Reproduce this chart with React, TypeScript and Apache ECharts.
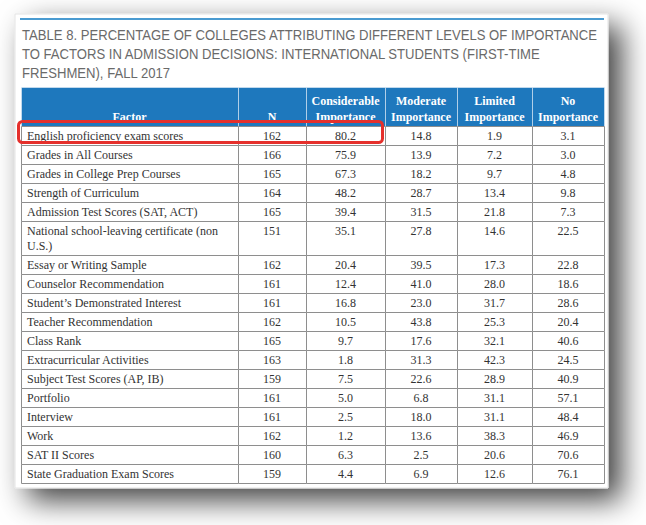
import React, { useEffect, useRef } from "react";
import * as echarts from "echarts";

// ---------- data ----------
const titleLines = [
  "TABLE 8. PERCENTAGE OF COLLEGES ATTRIBUTING DIFFERENT LEVELS OF IMPORTANCE",
  "TO FACTORS IN ADMISSION DECISIONS: INTERNATIONAL STUDENTS (FIRST-TIME",
  "FRESHMEN), FALL 2017",
];
const headers = [
  "Factor",
  "N",
  "Considerable\nImportance",
  "Moderate\nImportance",
  "Limited\nImportance",
  "No\nImportance",
];
const factors = [
  "English proficiency exam scores",
  "Grades in All Courses",
  "Grades in College Prep Courses",
  "Strength of Curriculum",
  "Admission Test Scores (SAT, ACT)",
  "National school-leaving certificate (non\nU.S.)",
  "Essay or Writing Sample",
  "Counselor Recommendation",
  "Student\u2019s Demonstrated Interest",
  "Teacher Recommendation",
  "Class Rank",
  "Extracurricular Activities",
  "Subject Test Scores (AP, IB)",
  "Portfolio",
  "Interview",
  "Work",
  "SAT II Scores",
  "State Graduation Exam Scores",
];
const nValues = [162, 166, 165, 164, 165, 151, 162, 161, 161, 162, 165, 163, 159, 161, 161, 162, 160, 159];
const considerable = [80.2, 75.9, 67.3, 48.2, 39.4, 35.1, 20.4, 12.4, 16.8, 10.5, 9.7, 1.8, 7.5, 5.0, 2.5, 1.2, 6.3, 4.4];
const moderate = [14.8, 13.9, 18.2, 28.7, 31.5, 27.8, 39.5, 41.0, 23.0, 43.8, 17.6, 31.3, 22.6, 6.8, 18.0, 13.6, 2.5, 6.9];
const limited = [1.9, 7.2, 9.7, 13.4, 21.8, 14.6, 17.3, 28.0, 31.7, 25.3, 32.1, 42.3, 28.9, 31.1, 31.1, 38.3, 20.6, 12.6];
const noImportance = [3.1, 3.0, 4.8, 9.8, 7.3, 22.5, 22.8, 18.6, 28.6, 20.4, 40.6, 24.5, 40.9, 57.1, 48.4, 46.9, 70.6, 76.1];
const highlightRow = 0;
const highlightLastCol = 2;

// ---------- layout ----------
const COL_W = [217, 68, 79, 72, 75, 72];
const HEADER_H = 39;
const ROW_H = 19;
const EXTRA_LINE_H = 15;

const SERIF = "'Liberation Serif', 'DejaVu Serif', serif";
const SANS = "'Liberation Sans', Arial, sans-serif";

function cellText(c: number, r: number): string {
  if (r < 0) return headers[c];
  if (c === 0) return factors[r];
  if (c === 1) return String(nValues[r]);
  const cols = [considerable, moderate, limited, noImportance];
  return cols[c - 2][r].toFixed(1);
}

export default function App() {
  const ref = useRef<HTMLDivElement>(null);

  useEffect(() => {
    if (!ref.current) return;
    const chart = echarts.init(ref.current, undefined, { renderer: "svg" });

    const colEdges = [0];
    COL_W.forEach((w) => colEdges.push(colEdges[colEdges.length - 1] + w));
    const rowEdges = [HEADER_H];
    factors.forEach((f) => {
      const lines = f.split("\n").length;
      rowEdges.push(rowEdges[rowEdges.length - 1] + ROW_H + (lines - 1) * EXTRA_LINE_H);
    });
    const totalW = colEdges[colEdges.length - 1];
    const totalH = rowEdges[rowEdges.length - 1];

    const cells: number[][] = [];
    for (let c = 0; c < COL_W.length; c++) {
      cells.push([colEdges[c], 0, colEdges[c + 1], HEADER_H, c, -1]);
    }
    for (let r = 0; r < factors.length; r++) {
      for (let c = 0; c < COL_W.length; c++) {
        cells.push([colEdges[c], rowEdges[r], colEdges[c + 1], rowEdges[r + 1], c, r]);
      }
    }

    const highlight = [[0, rowEdges[highlightRow], colEdges[highlightLastCol + 1], rowEdges[highlightRow + 1]]];

    const option: any = {
      animation: false,
      backgroundColor: "#ffffff",
      grid: { left: 21, top: 87, width: totalW, height: totalH },
      xAxis: { type: "value", min: 0, max: totalW, show: false },
      yAxis: { type: "value", min: 0, max: totalH, inverse: true, show: false },
      graphic: [
        {
          type: "rect",
          z: 0,
          shape: { x: 15, y: 14, width: 593, height: 474 },
          style: {
            fill: "#ffffff",
            stroke: "#e3e3e3",
            lineWidth: 1,
            shadowBlur: 30,
            shadowOffsetX: 13,
            shadowOffsetY: 12,
            shadowColor: "rgba(0,0,0,0.75)",
          },
        },
        {
          type: "rect",
          z: 1,
          shape: { x: 20, y: 18, width: 584, height: 2 },
          style: { fill: "#4a9bd1" },
        },
        {
          type: "text",
          z: 5,
          x: 22,
          y: 26,
          scaleX: 0.937,
          style: {
            text: titleLines.join("\n"),
            font: `14px ${SANS}`,
            fill: "#6a6a6a",
            lineHeight: 19,
            verticalAlign: "top",
            align: "left",
          },
        },
      ],
      series: [
        {
          type: "custom",
          coordinateSystem: "cartesian2d",
          encode: { x: [0, 2], y: [1, 3] },
          data: cells,
          silent: true,
          renderItem: (params: any, api: any) => {
            const x0 = api.value(0);
            const y0 = api.value(1);
            const x1 = api.value(2);
            const y1 = api.value(3);
            const c = api.value(4);
            const r = api.value(5);
            const p0 = api.coord([x0, y0]);
            const p1 = api.coord([x1, y1]);
            const isHeader = r < 0;
            const rect = {
              type: "rect",
              shape: {
                x: p0[0] + 0.5,
                y: p0[1] + 0.5,
                width: p1[0] - p0[0],
                height: p1[1] - p0[1],
              },
              style: isHeader
                ? { fill: "#1e78bd", stroke: "rgba(255,255,255,0.45)", lineWidth: 1 }
                : { fill: "#ffffff", stroke: "#8e8e8e", lineWidth: 1 },
            };
            let text: any;
            if (isHeader) {
              text = {
                type: "text",
                x: (p0[0] + p1[0]) / 2,
                y: p0[1] + (c <= 1 ? 22 : 6),
                style: {
                  text: cellText(c, r),
                  font: `bold 12px ${SERIF}`,
                  fill: "#ffffff",
                  align: "center",
                  verticalAlign: "top",
                  lineHeight: 16,
                },
              };
            } else {
              text = {
                type: "text",
                x: c === 0 ? p0[0] + 6 : (p0[0] + p1[0]) / 2,
                y: p0[1] + 2.5,
                style: {
                  text: cellText(c, r),
                  font: `12px ${SERIF}`,
                  fill: "#333333",
                  align: c === 0 ? "left" : "center",
                  verticalAlign: "top",
                  lineHeight: 15,
                },
              };
            }
            return { type: "group", children: [rect, text] };
          },
        },
        {
          type: "custom",
          coordinateSystem: "cartesian2d",
          encode: { x: [0, 2], y: [1, 3] },
          data: highlight,
          silent: true,
          z: 10,
          renderItem: (params: any, api: any) => {
            const p0 = api.coord([api.value(0), api.value(1)]);
            const p1 = api.coord([api.value(2), api.value(3)]);
            return {
              type: "rect",
              shape: {
                x: p0[0] - 2.5,
                y: p0[1] - 4.5,
                width: p1[0] - p0[0],
                height: p1[1] - p0[1] + 2,
                r: 4,
              },
              style: { fill: "none", stroke: "#e5302c", lineWidth: 3 },
            };
          },
        },
      ],
    };

    chart.setOption(option);
    return () => chart.dispose();
  }, []);

  return (
    <div
      ref={ref}
      style={{ position: "fixed", left: 0, top: 0, width: 646, height: 525 }}
    />
  );
}
